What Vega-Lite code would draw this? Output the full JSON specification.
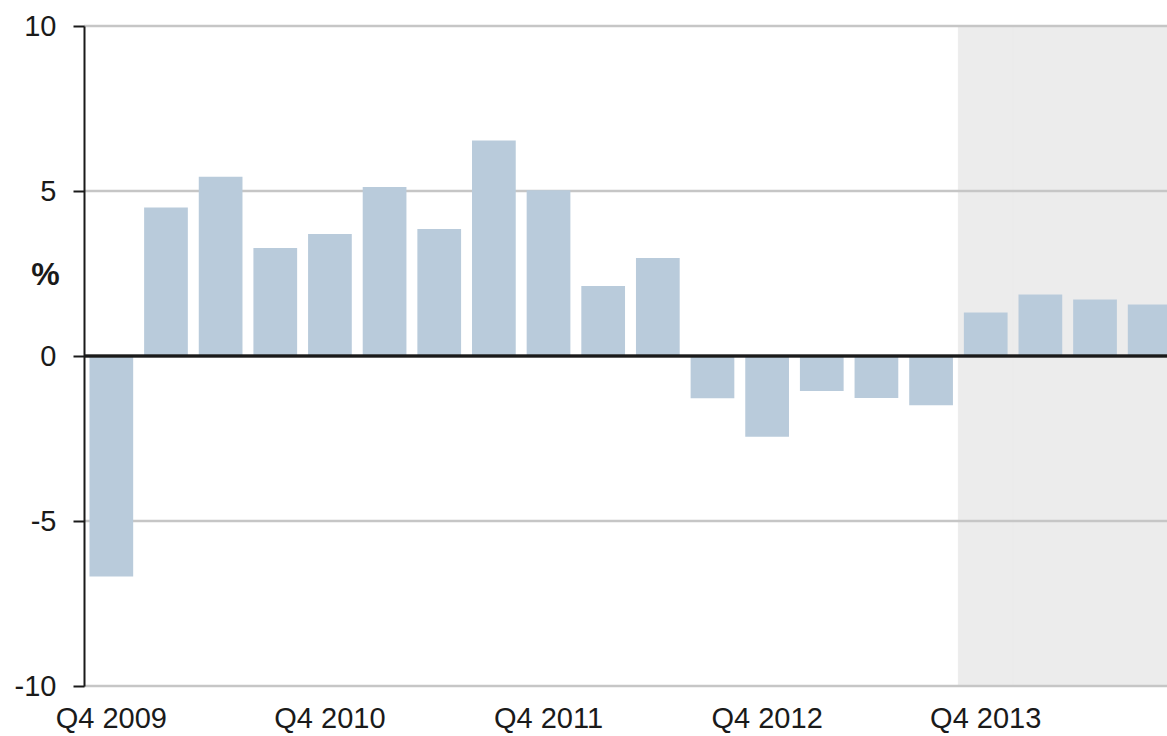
{
  "$schema": "https://vega.github.io/schema/vega-lite/v6.json",
  "width": 1093,
  "height": 660,
  "autosize": {"type": "none"},
  "padding": {"left": 84, "top": 26, "right": 0, "bottom": 50},
  "background": "white",
  "config": {"view": {"stroke": null}, "font": "Liberation Sans"},
  "datasets": {
    "gdp": [
      {"q": "Q4 2009", "v": -6.68, "f": false},
      {"q": "Q1 2010", "v": 4.5, "f": false},
      {"q": "Q2 2010", "v": 5.43, "f": false},
      {"q": "Q3 2010", "v": 3.27, "f": false},
      {"q": "Q4 2010", "v": 3.7, "f": false},
      {"q": "Q1 2011", "v": 5.12, "f": false},
      {"q": "Q2 2011", "v": 3.85, "f": false},
      {"q": "Q3 2011", "v": 6.53, "f": false},
      {"q": "Q4 2011", "v": 5.02, "f": false},
      {"q": "Q1 2012", "v": 2.12, "f": false},
      {"q": "Q2 2012", "v": 2.97, "f": false},
      {"q": "Q3 2012", "v": -1.28, "f": false},
      {"q": "Q4 2012", "v": -2.45, "f": false},
      {"q": "Q1 2013", "v": -1.06, "f": false},
      {"q": "Q2 2013", "v": -1.27, "f": false},
      {"q": "Q3 2013", "v": -1.49, "f": false},
      {"q": "Q4 2013", "v": 1.32, "f": true},
      {"q": "Q1 2014", "v": 1.86, "f": true},
      {"q": "Q2 2014", "v": 1.71, "f": true},
      {"q": "Q3 2014", "v": 1.56, "f": true}
    ],
    "grid": [{"g": 10}, {"g": 5}, {"g": -5}, {"g": -10}]
  },
  "layer": [
    {
      "data": {"name": "gdp"},
      "transform": [{"filter": "datum.f"}],
      "mark": {"type": "bar", "width": {"band": 1.25}, "color": "#ececec", "stroke": "#ececec", "strokeWidth": 1},
      "encoding": {
        "x": {
          "field": "q", "type": "ordinal", "sort": null,
          "scale": {
            "domain": ["Q4 2009", "Q1 2010", "Q2 2010", "Q3 2010", "Q4 2010", "Q1 2011", "Q2 2011", "Q3 2011", "Q4 2011", "Q1 2012", "Q2 2012", "Q3 2012", "Q4 2012", "Q1 2013", "Q2 2013", "Q3 2013", "Q4 2013", "Q1 2014", "Q2 2014", "Q3 2014"],
            "paddingInner": 0.2, "paddingOuter": 0.1
          },
          "axis": {
            "title": null,
            "ticks": false,
            "domain": false,
            "grid": false,
            "labelAngle": 0,
            "labelExpr": "indexof(datum.label, 'Q4') == 0 ? datum.label : ''",
            "labelFontSize": 29,
            "labelColor": "#1a1a1a",
            "labelPadding": 18,
            "labelOverlap": false,
            "labelBaseline": "top",
            "labelFont": "Liberation Sans"
          }
        },
        "y": {
          "datum": 10, "type": "quantitative",
          "scale": {"domain": [-10, 10], "nice": false},
          "axis": {
            "title": "%",
            "titleAngle": 0,
            "titleX": -39,
            "titleY": 248,
            "titleAlign": "center",
            "titleBaseline": "middle",
            "titleFontSize": 32,
            "titleFontWeight": "bold",
            "titleColor": "#1a1a1a",
            "titleFont": "Liberation Sans",
            "values": [-10, -5, 0, 5, 10],
            "labelExpr": "replace(datum.label, '\u2212', '-')",
            "grid": false,
            "domainColor": "#1a1a1a",
            "domainWidth": 2,
            "tickColor": "#1a1a1a",
            "tickWidth": 2,
            "tickSize": 11,
            "labelFontSize": 29,
            "labelColor": "#1a1a1a",
            "labelPadding": 17,
            "labelFont": "Liberation Sans",
            "zindex": 1
          }
        },
        "y2": {"datum": -10}
      }
    },
    {
      "data": {"name": "grid"},
      "mark": {"type": "rule", "color": "#c6c6c6", "strokeWidth": 2.5},
      "encoding": {"y": {"field": "g", "type": "quantitative"}}
    },
    {
      "data": {"name": "gdp"},
      "mark": {"type": "bar", "color": "#b9cbdb"},
      "encoding": {
        "x": {"field": "q", "type": "ordinal", "sort": null},
        "y": {"field": "v", "type": "quantitative"}
      }
    },
    {
      "data": {"name": "grid"},
      "mark": {"type": "rule", "color": "#1a1a1a", "strokeWidth": 2.5},
      "encoding": {"y": {"datum": 0, "type": "quantitative"}}
    }
  ]
}
